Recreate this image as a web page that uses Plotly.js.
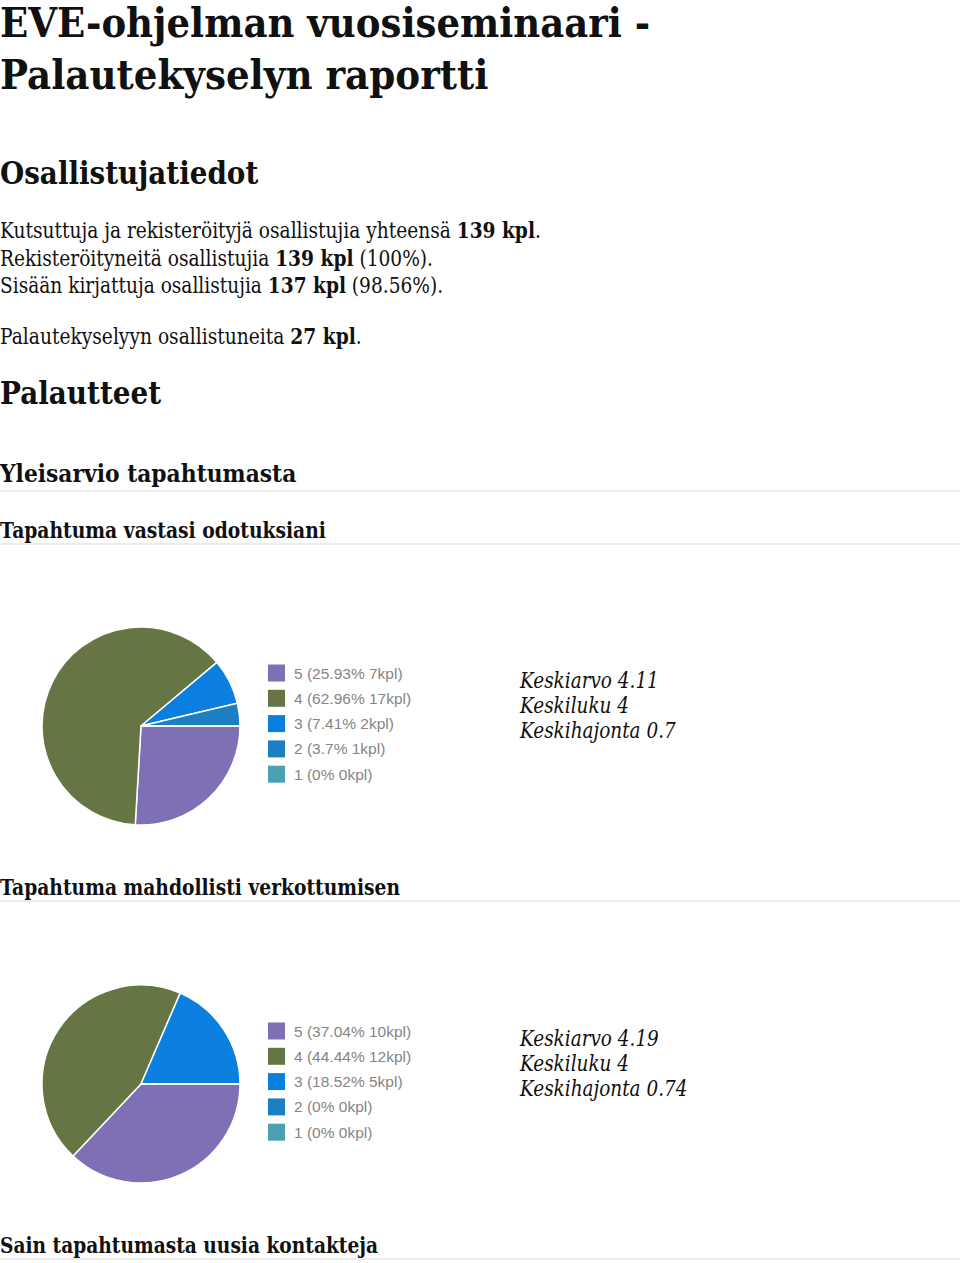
<!DOCTYPE html>
<html>
<head>
<meta charset="utf-8">
<script src="https://cdn.plot.ly/plotly-3.0.1.min.js"></script>
<style>
  html, body { margin:0; padding:0; background:#fff; }
  body { width:960px; height:1263px; position:relative; overflow:hidden; font-family:"DejaVu Serif", serif; color:#111; }
  .t { position:absolute; left:0; white-space:nowrap; line-height:0.8; transform-origin:0 0; }
  .b { font-weight:bold; }
  .rule { position:absolute; left:0; width:960px; background:#ececec; }
  .stat { position:absolute; left:520px; font-style:italic; line-height:0.8; white-space:nowrap; color:#111; transform-origin:0 0; }
  .chart { position:absolute; left:0; width:480px; height:250px; }
</style>
</head>
<body>
<!-- data-bl: baseline y, data-fs: font size, data-w: target width (layout) -->
<div class="t b" data-bl="37.6" data-fs="40.4" data-w="650">EVE-ohjelman vuosiseminaari -</div>
<div class="t b" data-bl="90" data-fs="41" data-w="488">Palautekyselyn raportti</div>
<div class="t b" data-bl="185" data-fs="32" data-w="258">Osallistujatiedot</div>
<div class="t" data-bl="238.5" data-fs="22" data-w="541">Kutsuttuja ja rekisteröityjä osallistujia yhteensä <b>139 kpl</b>.</div>
<div class="t" data-bl="266" data-fs="22" data-w="433">Rekisteröityneitä osallistujia <b>139 kpl</b> (100%).</div>
<div class="t" data-bl="293.5" data-fs="22" data-w="443">Sisään kirjattuja osallistujia <b>137 kpl</b> (98.56%).</div>
<div class="t" data-bl="344.5" data-fs="22" data-w="362">Palautekyselyyn osallistuneita <b>27 kpl</b>.</div>
<div class="t b" data-bl="405" data-fs="32" data-w="161">Palautteet</div>
<div class="t b" data-bl="482.5" data-fs="25" data-w="296">Yleisarvio tapahtumasta</div>
<div class="rule" style="top:490px;height:2px;"></div>
<div class="t b" data-bl="537.5" data-fs="22.5" data-w="326">Tapahtuma vastasi odotuksiani</div>
<div class="rule" style="top:543px;height:2px;"></div>
<div id="c1" class="chart" style="top:600px;"></div>
<div id="s1"></div>
<div class="t b" data-bl="894.5" data-fs="22.5" data-w="400">Tapahtuma mahdollisti verkottumisen</div>
<div class="rule" style="top:900px;height:2px;"></div>
<div id="c2" class="chart" style="top:958px;"></div>
<div id="s2"></div>
<div class="t b" data-bl="1252.5" data-fs="22.5" data-w="378">Sain tapahtumasta uusia kontakteja</div>
<div class="rule" style="top:1258px;height:2px;"></div>

<script>
// ---- data ----
const categories = ['5', '4', '3', '2', '1'];
const sliceColors = ['#7f6fb4', '#657544', '#0a7fe0', '#1b7fc2', '#4ba1b3'];
const q1Counts = [7, 17, 2, 1, 0];
const q1Percents = ['25.93', '62.96', '7.41', '3.7', '0'];
const q2Counts = [10, 12, 5, 0, 0];
const q2Percents = ['37.04', '44.44', '18.52', '0', '0'];
const statLabels = ['Keskiarvo', 'Keskiluku', 'Keskihajonta'];
const q1Stats = ['4.11', '4', '0.7'];
const q2Stats = ['4.19', '4', '0.74'];

// ---- text layout (baseline for line-height:0.8 in DejaVu Serif = 0.746em below top) ----
const BL = 0.746;
function placeText(el, bl, fs, targetW) {
  el.style.fontSize = fs + 'px';
  el.style.top = (bl - BL * fs) + 'px';
  if (targetW) {
    const w = el.offsetWidth;
    el.style.transform = 'scaleX(' + (targetW / w) + ')';
  }
}
document.querySelectorAll('.t').forEach(el => {
  placeText(el, +el.dataset.bl, +el.dataset.fs, +el.dataset.w);
});

// ---- pies ----
const W = 480, H = 250;
const px = x => x / W;
const py = y => 1 - y / H;

function drawPie(id, counts, percents) {
  const shapes = [], annotations = [];
  categories.forEach((c, i) => {
    const cy = 73 + i * 25.3;
    shapes.push({type:'rect', xref:'paper', yref:'paper',
      x0:px(268), x1:px(285), y0:py(cy + 8.5), y1:py(cy - 8.5),
      fillcolor:sliceColors[i], line:{width:0}});
    annotations.push({xref:'paper', yref:'paper', x:px(292), y:py(cy),
      xanchor:'left', yanchor:'middle', showarrow:false,
      text: c + ' (' + percents[i] + '% ' + counts[i] + 'kpl)',
      font:{family:'Liberation Sans, Arial, sans-serif', size:15.5, color:'#858585'}});
  });
  Plotly.newPlot(id, [{
    type:'pie', labels:categories, values:counts, sort:false,
    direction:'clockwise', rotation:90,
    marker:{colors:sliceColors, line:{color:'#ffffff', width:1.5}},
    textinfo:'none', hoverinfo:'label+value+percent', showlegend:false,
    domain:{x:[px(42), px(240)], y:[py(225), py(27)]}
  }], {
    width:W, height:H, margin:{l:0, r:0, t:0, b:0},
    paper_bgcolor:'rgba(0,0,0,0)', showlegend:false,
    shapes:shapes, annotations:annotations
  }, {staticPlot:true, displayModeBar:false});
}

function drawStats(id, firstBaseline, values) {
  const el = document.getElementById(id);
  const fs = 22;
  let scale = null;
  statLabels.forEach((l, i) => {
    const d = document.createElement('div');
    d.className = 'stat';
    d.style.fontSize = fs + 'px';
    d.style.top = (firstBaseline + i * 25 - BL * fs) + 'px';
    d.textContent = l + ' ' + values[i];
    el.appendChild(d);
    if (scale === null) scale = 139 / d.offsetWidth;
    d.style.transform = 'scaleX(' + scale + ')';
  });
}

drawPie('c1', q1Counts, q1Percents);
drawPie('c2', q2Counts, q2Percents);
drawStats('s1', 688, q1Stats);
drawStats('s2', 1046, q2Stats);
</script>
</body>
</html>
